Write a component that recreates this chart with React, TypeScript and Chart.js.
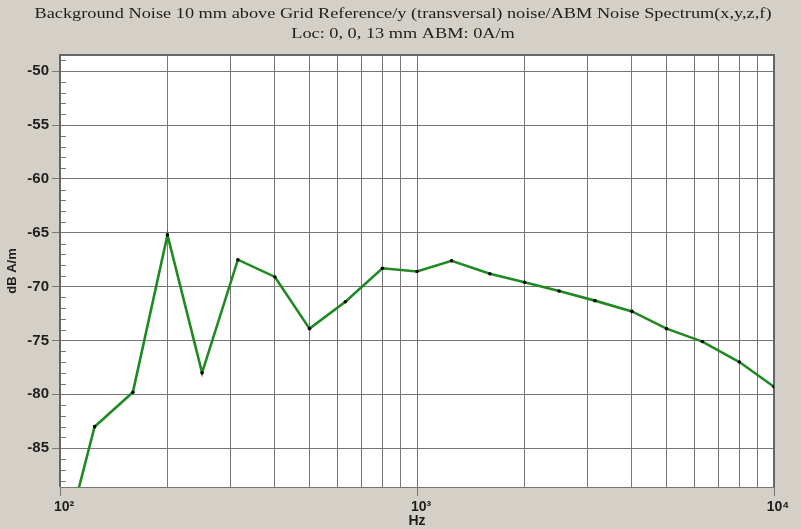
import React, { useEffect, useRef } from 'react';
import { Chart, registerables } from 'chart.js';

Chart.register(...registerables);

const frequencies = [100, 125, 160, 200, 250, 315, 400, 500, 630, 800, 1000, 1250, 1600, 2000, 2500, 3150, 4000, 5000, 6300, 8000, 10000];
const noiseDb = [-95.5, -83.0, -79.8, -65.2, -78.0, -67.5, -69.1, -73.9, -71.4, -68.3, -68.6, -67.6, -68.8, -69.6, -70.4, -71.3, -72.3, -73.9, -75.1, -77.0, -79.3];
const yTicks = [-85, -80, -75, -70, -65, -60, -55, -50];
const xGrid = [100, 200, 300, 400, 500, 600, 700, 800, 900, 1000, 2000, 3000, 4000, 5000, 6000, 7000, 8000, 9000, 10000];
const xDecades = [100, 1000, 10000];
const xTickLabels = ['10²', '10³', '10⁴'];
const titleText = 'Background Noise 10 mm above Grid Reference/y (transversal) noise/ABM Noise Spectrum(x,y,z,f)';
const subtitleText = 'Loc: 0, 0, 13 mm ABM: 0A/m';
const xTitle = 'Hz';
const yTitle = 'dB A/m';
const yMin = -88.6;
const yMax = -48.5;

const GRID = '#777777';
const BG = '#d4d0c8';
const TEXT = '#1e1e1e';
const SANS = '"Liberation Sans", Arial, sans-serif';

const decorPlugin = {
  id: 'decor',
  beforeDraw(chart: any) {
    const { ctx, chartArea, width, height } = chart;
    ctx.save();
    ctx.fillStyle = BG;
    ctx.fillRect(0, 0, width, height);
    ctx.fillStyle = '#ffffff';
    ctx.fillRect(chartArea.left, chartArea.top, chartArea.right - chartArea.left, chartArea.bottom - chartArea.top);
    ctx.fillStyle = TEXT;
    ctx.textAlign = 'left';
    ctx.textBaseline = 'middle';
    ctx.font = '15px "Liberation Serif", serif';
    const w = ctx.measureText(titleText).width;
    const sx = 737 / w;
    const cx = 403;
    ctx.save();
    ctx.translate(cx - (w * sx) / 2, 14);
    ctx.scale(sx, 1);
    ctx.fillText(titleText, 0, 0);
    ctx.restore();
    const w2 = ctx.measureText(subtitleText).width;
    ctx.save();
    ctx.translate(cx - (w2 * sx) / 2, 34);
    ctx.scale(sx, 1);
    ctx.fillText(subtitleText, 0, 0);
    ctx.restore();
    ctx.restore();
  },
  beforeDatasetsDraw(chart: any) {
    const { ctx, chartArea, scales } = chart;
    const y = scales.y;
    ctx.save();
    ctx.strokeStyle = GRID;
    ctx.lineWidth = 1;
    for (let v = Math.ceil(yMin); v <= Math.floor(yMax); v++) {
      if (v % 5 === 0) continue;
      const py = Math.round(y.getPixelForValue(v)) + 0.5;
      ctx.beginPath();
      ctx.moveTo(chartArea.left, py);
      ctx.lineTo(chartArea.left + 6, py);
      ctx.stroke();
    }
    ctx.strokeStyle = '#666666';
    ctx.lineWidth = 2;
    ctx.beginPath();
    ctx.moveTo(chartArea.left, chartArea.bottom);
    ctx.lineTo(chartArea.left, chartArea.top);
    ctx.lineTo(chartArea.right, chartArea.top);
    ctx.lineTo(chartArea.right, chartArea.bottom);
    ctx.stroke();
    ctx.lineWidth = 1;
    ctx.strokeStyle = GRID;
    ctx.beginPath();
    ctx.moveTo(chartArea.left, chartArea.bottom + 0.5);
    ctx.lineTo(chartArea.right, chartArea.bottom + 0.5);
    ctx.stroke();
    ctx.restore();
  },
};

export default function App() {
  const ref = useRef<HTMLCanvasElement | null>(null);
  useEffect(() => {
    if (!ref.current) return;
    const chart = new Chart(ref.current, {
      type: 'line',
      data: {
        datasets: [
          {
            data: frequencies.map((f, i) => ({ x: f, y: noiseDb[i] })),
            borderColor: '#1f8a22',
            borderWidth: 2.6,
            pointRadius: 1.8,
            pointBackgroundColor: '#000000',
            pointBorderWidth: 0,
            tension: 0,
          },
        ],
      },
      options: {
        animation: false,
        responsive: true,
        maintainAspectRatio: false,
        layout: { padding: { top: 55, right: 27, left: 0, bottom: 0 } },
        plugins: { legend: { display: false }, tooltip: { enabled: false }, title: { display: false } },
        scales: {
          x: {
            type: 'logarithmic',
            min: 100,
            max: 10000,
            afterBuildTicks: (scale: any) => {
              scale.ticks = xGrid.map((v) => ({ value: v }));
            },
            afterFit: (scale: any) => {
              scale.height = 42;
            },
            ticks: {
              autoSkip: false,
              maxRotation: 0,
              padding: 3,
              labelOffset: 4,
              color: TEXT,
              font: { family: SANS, size: 14, weight: 'bold' },
              callback: (value: any) => {
                const i = xDecades.indexOf(Number(value));
                return i >= 0 ? xTickLabels[i] : '';
              },
            },
            grid: {
              color: GRID,
              lineWidth: 1,
              tickLength: 9,
              tickColor: (c: any) => (xDecades.includes(c.tick?.value) ? GRID : 'rgba(0,0,0,0)'),
            },
            border: { display: true, color: GRID },
            title: {
              display: true,
              text: xTitle,
              color: TEXT,
              padding: { top: 0, bottom: -1 },
              font: { family: SANS, size: 14, weight: 'bold' },
            },
          },
          y: {
            type: 'linear',
            min: yMin,
            max: yMax,
            afterBuildTicks: (scale: any) => {
              scale.ticks = yTicks.map((v) => ({ value: v }));
            },
            afterFit: (scale: any) => {
              scale.width = 60;
            },
            ticks: {
              autoSkip: false,
              padding: 3,
              color: TEXT,
              font: { family: SANS, size: 15, weight: 'bold' },
              callback: (value: any) => String(value),
            },
            grid: { color: GRID, lineWidth: 1, tickLength: 8 },
            border: { display: true, color: GRID },
            title: {
              display: true,
              text: yTitle,
              color: TEXT,
              padding: { top: 5, bottom: 0 },
              font: { family: SANS, size: 13, weight: 'bold' },
            },
          },
        },
      },
      plugins: [decorPlugin],
    } as any);
    return () => chart.destroy();
  }, []);
  return (
    <div style={{ position: 'fixed', left: 0, top: 0, width: 801, height: 529, background: BG }}>
      <canvas ref={ref} />
    </div>
  );
}
